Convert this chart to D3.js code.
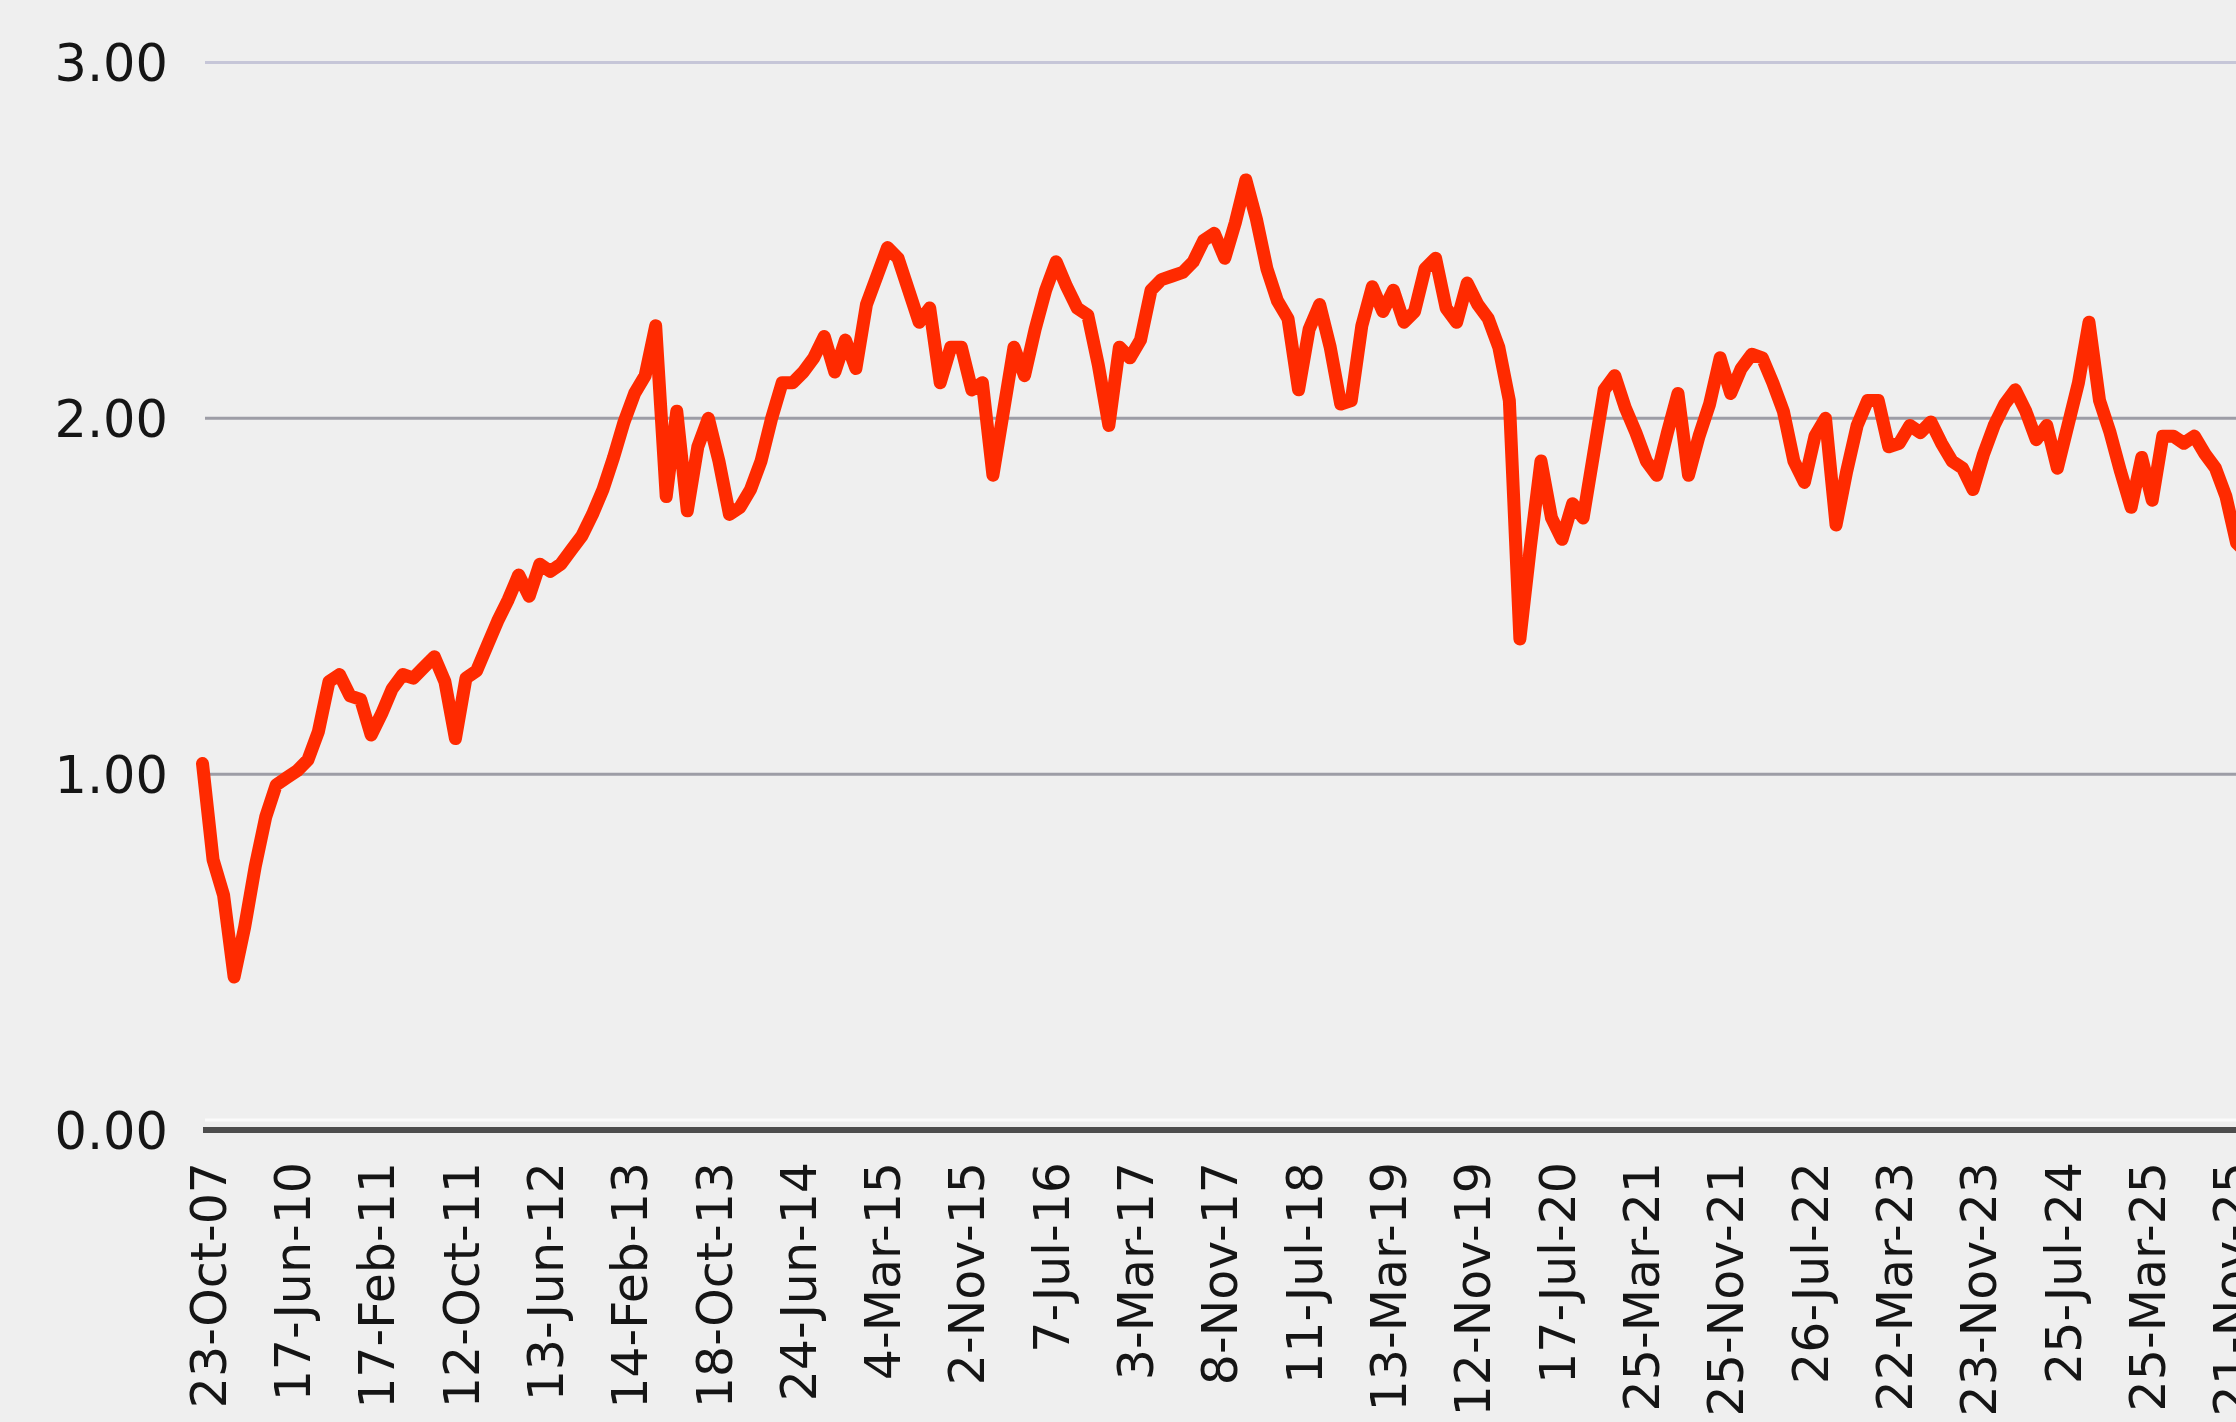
<!DOCTYPE html>
<html>
<head>
<meta charset="utf-8">
<script src="https://cdn.jsdelivr.net/npm/d3@7"></script>
<style>
  html, body { margin: 0; padding: 0; background: #efefef; overflow: hidden; }
  svg { display: block; }
  text { font-family: "DejaVu Sans", sans-serif; fill: #151515; }
</style>
</head>
<body>
<svg id="chart" width="2236" height="1422"></svg>
<script>
// Category labels shown along the x axis (one every 8 observations)
const tickLabels = [
  "23-Oct-07", "17-Jun-10", "17-Feb-11", "12-Oct-11", "13-Jun-12", "14-Feb-13",
  "18-Oct-13", "24-Jun-14", "4-Mar-15", "2-Nov-15", "7-Jul-16", "3-Mar-17",
  "8-Nov-17", "11-Jul-18", "13-Mar-19", "12-Nov-19", "17-Jul-20", "25-Mar-21",
  "25-Nov-21", "26-Jul-22", "22-Mar-23", "23-Nov-23", "25-Jul-24", "25-Mar-25",
  "21-Nov-25"
];
const pointsPerLabel = 8;

// Series values, one per observation
const values = [
  1.03, 0.76, 0.66, 0.43, 0.57, 0.74, 0.88, 0.97,
  0.99, 1.01, 1.04, 1.12, 1.26, 1.28, 1.22, 1.21,
  1.11, 1.17, 1.24, 1.28, 1.27, 1.30, 1.33, 1.26,
  1.10, 1.27, 1.29, 1.36, 1.43, 1.49, 1.56, 1.50,
  1.59, 1.57, 1.59, 1.63, 1.67, 1.73, 1.80, 1.89,
  1.99, 2.07, 2.12, 2.26, 1.78, 2.02, 1.74, 1.92,
  2.00, 1.88, 1.73, 1.75, 1.80, 1.88, 2.00, 2.10,
  2.10, 2.13, 2.17, 2.23, 2.13, 2.22, 2.14, 2.32,
  2.40, 2.48, 2.45, 2.36, 2.27, 2.31, 2.10, 2.20,
  2.20, 2.08, 2.10, 1.84, 2.02, 2.20, 2.12, 2.25,
  2.36, 2.44, 2.37, 2.31, 2.29, 2.15, 1.98, 2.20,
  2.17, 2.22, 2.36, 2.39, 2.40, 2.41, 2.44, 2.50,
  2.52, 2.45, 2.55, 2.67, 2.56, 2.42, 2.33, 2.28,
  2.08, 2.25, 2.32, 2.20, 2.04, 2.05, 2.26, 2.37,
  2.30, 2.36, 2.27, 2.30, 2.42, 2.45, 2.31, 2.27,
  2.38, 2.32, 2.28, 2.20, 2.05, 1.38, 1.64, 1.88,
  1.72, 1.66, 1.76, 1.72, 1.90, 2.08, 2.12, 2.03,
  1.96, 1.88, 1.84, 1.96, 2.07, 1.84, 1.95, 2.04,
  2.17, 2.07, 2.14, 2.18, 2.17, 2.10, 2.02, 1.88,
  1.82, 1.95, 2.00, 1.70, 1.85, 1.98, 2.05, 2.05,
  1.92, 1.93, 1.98, 1.96, 1.99, 1.93, 1.88, 1.86,
  1.80, 1.90, 1.98, 2.04, 2.08, 2.02, 1.94, 1.98,
  1.86, 1.98, 2.10, 2.27, 2.05, 1.96, 1.85, 1.75,
  1.89, 1.77, 1.95, 1.95, 1.93, 1.95, 1.90, 1.86,
  1.78, 1.65, 1.62
];

// Value axis ticks
const yTicks = [0, 1, 2, 3];

const svg = d3.select("#chart");
const W = 2236, H = 1422;

svg.append("rect").attr("width", W).attr("height", H).attr("fill", "#efefef");

const lastTickIndex = (tickLabels.length - 1) * pointsPerLabel;
const x = d3.scaleLinear().domain([0, lastTickIndex]).range([202.5, 2226]);
const y = d3.scaleLinear().domain([0, 3]).range([1130, 62.5]);

// Horizontal gridlines (0 is drawn as the axis line below)
svg.append("g")
  .selectAll("line")
  .data(yTicks.filter(d => d > 0))
  .join("line")
  .attr("x1", 205).attr("x2", W + 20)
  .attr("y1", d => y(d)).attr("y2", d => y(d))
  .attr("stroke", d => d === 3 ? "#c6c6d8" : "#9d9da6")
  .attr("stroke-width", 3);

// Value axis labels
const yAxis = d3.axisLeft(y).tickValues(yTicks).tickFormat(d3.format(".2f")).tickSize(0).tickPadding(0);
const yg = svg.append("g").attr("transform", "translate(168,0)").call(yAxis);
yg.select(".domain").remove();
yg.selectAll("text")
  .attr("font-family", "DejaVu Sans, sans-serif")
  .attr("font-size", 51)
  .attr("fill", "#151515")
  .attr("dy", "0.36em");

// Series line
const line = d3.line()
  .x((d, i) => x(i))
  .y(d => y(d))
  .curve(d3.curveLinear);

svg.append("path")
  .datum(values)
  .attr("d", line)
  .attr("fill", "none")
  .attr("stroke", "#ff2a00")
  .attr("stroke-width", 13)
  .attr("stroke-linejoin", "round")
  .attr("stroke-linecap", "round");

// Category axis: thin highlight, then the dark base line
svg.append("line")
  .attr("x1", 205).attr("x2", W + 20)
  .attr("y1", y(0) - 10).attr("y2", y(0) - 10)
  .attr("stroke", "#ffffff").attr("stroke-width", 3).attr("opacity", 0.8);

const tickIdx = tickLabels.map((t, i) => i * pointsPerLabel);
const xAxis = d3.axisBottom(x)
  .tickValues(tickIdx)
  .tickFormat((d, i) => tickLabels[i])
  .tickSize(0)
  .tickPadding(0);

const xg = svg.append("g").attr("transform", `translate(0,${y(0)})`).call(xAxis);
xg.select(".domain")
  .attr("d", `M203,0H${W + 20}`)
  .attr("stroke", "#4d4d4d")
  .attr("stroke-width", 6);
xg.selectAll("text")
  .attr("font-family", "DejaVu Sans, sans-serif")
  .attr("font-size", 49)
  .attr("fill", "#151515")
  .attr("text-anchor", "end")
  .attr("transform", "translate(5,32) rotate(-90)")
  .attr("x", 0)
  .attr("y", 0)
  .attr("dy", "0.36em");
</script>
</body>
</html>
